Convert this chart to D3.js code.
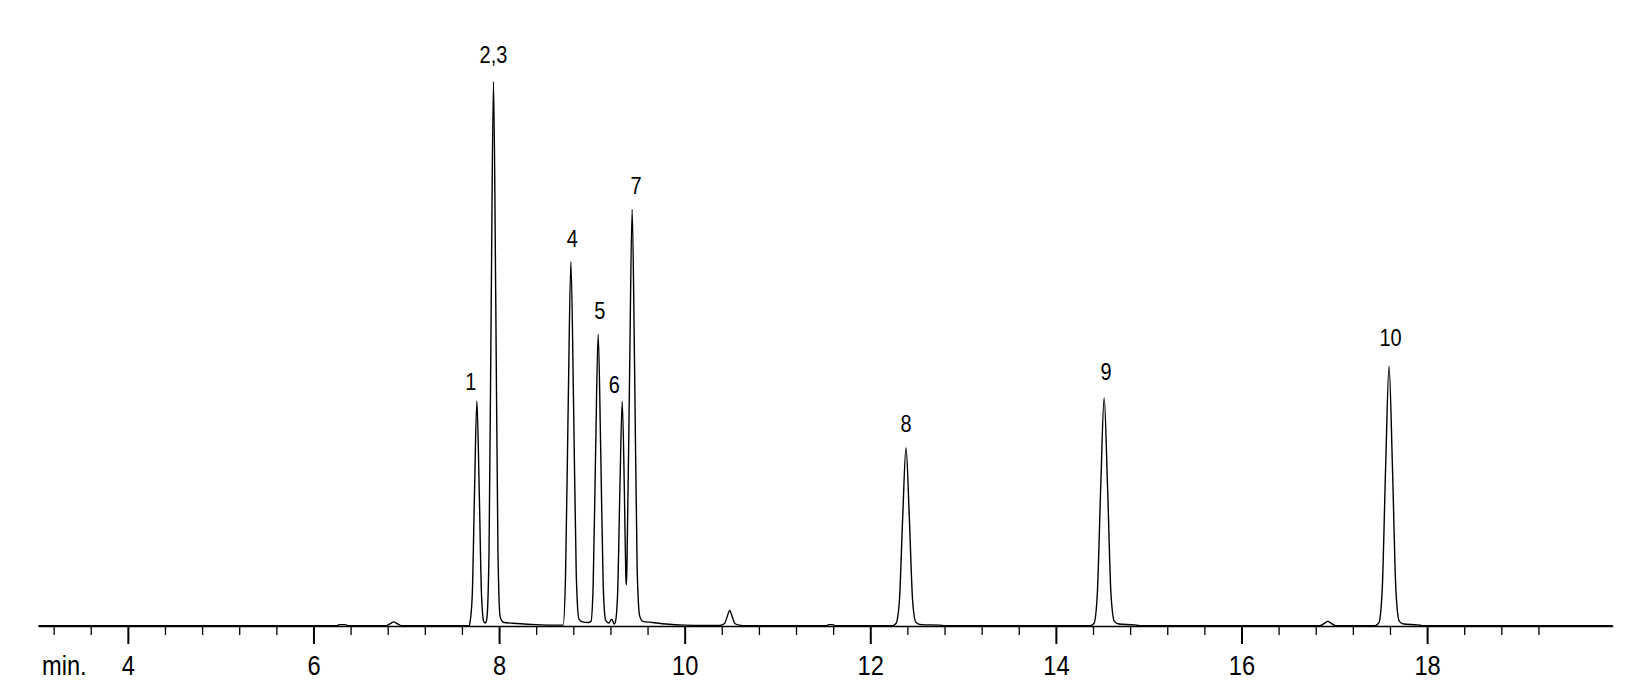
<!DOCTYPE html>
<html>
<head>
<meta charset="utf-8">
<script src="https://cdn.jsdelivr.net/npm/d3@7/dist/d3.min.js"></script>
<style>
  html, body { margin: 0; padding: 0; background: #fff; }
  svg { display: block; }
  text { font-family: "Liberation Sans", Arial, sans-serif; fill: #000; }
</style>
</head>
<body>
<svg id="chart" width="1631" height="690"></svg>
<script>
// ---- data ----
// retention time (min) of trace vertices
const traceTime = [
  3.035, 6.25, 6.28, 6.34, 6.37,
  6.78, 6.83, 6.863, 6.90, 6.95,
  7.68, 7.686, 7.711, 7.736, 7.761, 7.786, 7.811, 7.836, 7.852, 7.868,
  7.892, 7.916, 7.940, 7.964, 7.988, 8.012, 8.05, 8.2, 8.4, 8.6, 8.69,
  8.716, 8.745, 8.774, 8.803, 8.832, 8.861, 8.90, 8.96, 8.99,
  9.014, 9.041, 9.068, 9.095, 9.122, 9.149, 9.18, 9.215, 9.24,
  9.252, 9.277, 9.302, 9.327, 9.352, 9.366, 9.372, 9.378,
  9.407, 9.434, 9.461, 9.488, 9.515, 9.55, 9.65, 9.8, 10.0, 10.2,
  10.38, 10.43, 10.455, 10.485, 10.515, 10.54, 10.59, 10.66,
  11.53, 11.55, 11.60, 11.62,
  12.24, 12.277, 12.313, 12.349, 12.385, 12.421, 12.457, 12.493, 12.55, 12.75, 12.8,
  14.37, 14.41, 14.446, 14.483, 14.52, 14.557, 14.594, 14.631, 14.68, 14.85, 14.9,
  16.84, 16.89, 16.93, 16.97, 17.02,
  17.44, 17.48, 17.516, 17.553, 17.59, 17.627, 17.664, 17.701, 17.75, 17.9, 17.95,
  20.0
];
// detector signal (relative units, tallest peak = 1000)
const traceSignal = [
  0, 0, 2, 2, 0,
  0, 4, 7, 4, 0,
  0, 5, 56, 251, 413, 251, 56, 7, 5, 13,
  137, 607, 1000, 607, 137, 16, 6, 4, 2, 1, 1,
  90, 406, 669, 406, 92, 12, 7, 6, 8,
  75, 326, 536, 326, 75, 10, 5, 12, 3,
  6, 57, 251, 412, 230, 90, 75, 110,
  470, 765, 465, 105, 18, 8, 6, 3, 1, 0.5,
  0.5, 4, 15, 28, 15, 4, 1, 0,
  0, 2, 2, 0,
  0, 4, 44, 198, 327, 198, 44, 6, 2, 1, 0,
  0, 4, 57, 254, 419, 254, 57, 8, 3, 1.5, 0,
  0, 4, 8, 4, 0,
  0, 5, 65, 290, 477, 290, 65, 8, 3, 1.5, 0,
  0
];
// peak labels
const peakLabels  = ["1", "2,3", "4", "5", "6", "7", "8", "9", "10"];
const peakTimes   = [7.761, 7.940, 8.774, 9.068, 9.327, 9.434, 12.385, 14.52, 17.59];
const peakHeights = [413, 1000, 669, 536, 412, 765, 327, 419, 477];
// axis ticks
const majorTicks = [4, 6, 8, 10, 12, 14, 16, 18];
const minorTicks = [3.2, 3.6, 4.4, 4.8, 5.2, 5.6, 6.4, 6.8, 7.2, 7.6, 8.4, 8.8,
  9.2, 9.6, 10.4, 10.8, 11.2, 11.6, 12.4, 12.8, 13.2, 13.6, 14.4, 14.8, 15.2,
  15.6, 16.4, 16.8, 17.2, 17.6, 18.4, 18.8, 19.2];
const axisUnit = "min.";

// ---- layout ----
const labelDx  = [-6, 0, 1.5, 1.5, -8, 4, 0, 2, 1.5];
const labelGap = [11, 19, 15, 15, 8.5, 16, 16, 17.7, 20];
const narrow = 0.83;

const svg = d3.select("#chart");
const x = d3.scaleLinear().domain([3.035, 20]).range([38.3, 1612.7]);
const y = d3.scaleLinear().domain([0, 1000]).range([625.7, 81.7]);
const axisY = 626;

// minor ticks + axis line
const gMinor = svg.append("g").attr("transform", `translate(0,${axisY})`)
  .call(d3.axisBottom(x).tickValues(minorTicks).tickSize(9).tickSizeOuter(0).tickFormat(""));
gMinor.select(".domain").attr("stroke", "#000").attr("stroke-width", 1.4);
gMinor.selectAll(".tick line").attr("stroke", "#000").attr("stroke-width", 1.3);

// major ticks + labels
const gMajor = svg.append("g").attr("transform", `translate(0,${axisY})`)
  .call(d3.axisBottom(x).tickValues(majorTicks).tickSize(18).tickSizeOuter(0).tickPadding(11).tickFormat(d3.format("d")));
gMajor.select(".domain").remove();
gMajor.selectAll(".tick line").attr("stroke", "#000").attr("stroke-width", 2);
gMajor.selectAll(".tick text")
  .attr("font-size", 28.5)
  .attr("font-family", "Liberation Sans, Arial, sans-serif")
  .attr("fill", "#000")
  .attr("transform", `scale(${narrow},1)`);

svg.append("text")
  .attr("transform", `translate(42,675) scale(${narrow},1)`)
  .attr("font-size", 28.5)
  .text(axisUnit);

// trace
const pts = traceTime.map((t, i) => [t, traceSignal[i]]);
const line = d3.line().x(d => x(d[0])).y(d => y(d[1])).curve(d3.curveMonotoneX);
svg.append("path").datum(pts)
  .attr("d", line)
  .attr("fill", "none")
  .attr("stroke", "#000")
  .attr("stroke-width", 1.4)
  .attr("stroke-linejoin", "round");

// peak labels
svg.append("g").selectAll("text").data(peakLabels).join("text")
  .attr("transform", (d, i) =>
    `translate(${x(peakTimes[i]) + labelDx[i]},${y(peakHeights[i]) - labelGap[i]}) scale(0.85,1)`)
  .attr("text-anchor", "middle")
  .attr("font-size", 23.5)
  .text(d => d);
</script>
</body>
</html>
